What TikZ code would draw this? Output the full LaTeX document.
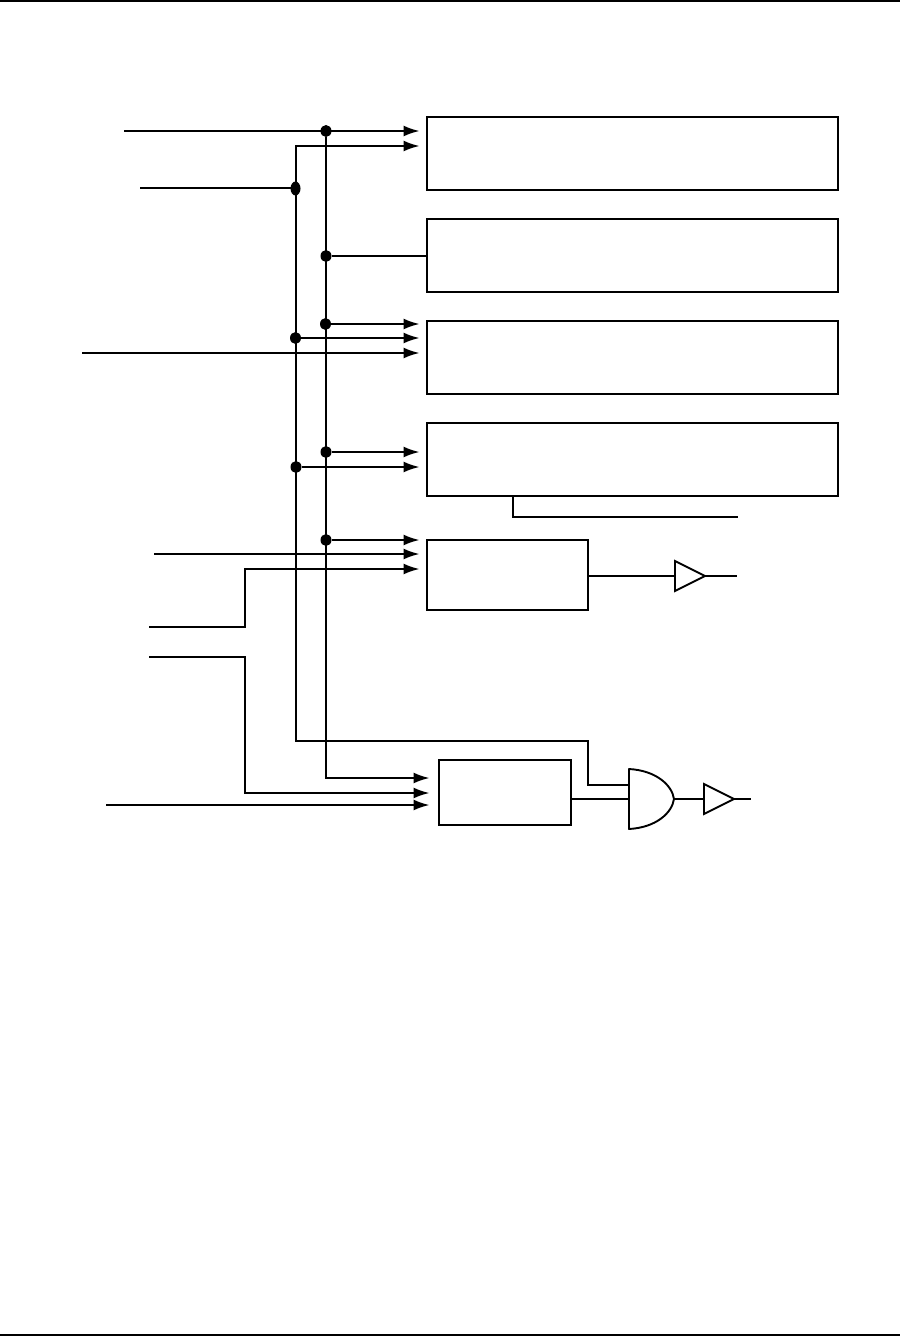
\documentclass[tikz,border=0pt]{standalone}
\usetikzlibrary{arrows.meta,shapes.geometric}
\tikzset{
  wire/.style={line width=1.9pt,line join=miter},
  sig/.style={wire,-{Latex[length=16pt,width=11pt]}},
  blockbox/.style={draw,line width=1.9pt,rectangle,inner sep=0pt,outer sep=0pt},
  ghost/.style={rectangle,inner sep=0pt,outer sep=0pt},
  joint/.style={ellipse,fill=black,draw=none,inner sep=0pt,outer sep=0pt,minimum width=11pt,minimum height=12pt},
  jointv/.style={joint,minimum width=10pt,minimum height=14pt}
}
\begin{document}
\begin{tikzpicture}[x=1pt,y=-1pt]
\useasboundingbox (0,0) rectangle (900,1336);
% page rules
\coordinate (tl) at (0,1); \coordinate (tr) at (900,1);
\coordinate (bl) at (0,1335); \coordinate (br) at (900,1335);
\draw[line width=2pt] (tl) -- (tr);
\draw[line width=2pt] (bl) -- (br);
% blocks
\node[blockbox,minimum width=411pt,minimum height=73pt] (b1) at (632.5,153.5) {};
\node[blockbox,minimum width=411pt,minimum height=73pt] (b2) at (632.5,255.5) {};
\node[blockbox,minimum width=411pt,minimum height=73pt] (b3) at (632.5,357.5) {};
\node[blockbox,minimum width=411pt,minimum height=73pt] (b4) at (632.5,459.5) {};
\node[blockbox,minimum width=161pt,minimum height=70pt] (b5) at (507.5,575) {};
\node[blockbox,minimum width=132pt,minimum height=65pt] (b6) at (505,792.5) {};
% gates
\node[ghost,minimum width=45pt,minimum height=60pt] (andg) at (651.5,799) {};
\draw[wire,line join=round] (andg.north west) -- (andg.south west)
  .. controls (656,827.5) and (672,813) .. (andg.east)
  .. controls (672,785) and (656,770.5) .. (andg.north west) -- cycle;
\node[ghost,minimum width=30pt,minimum height=30pt] (buf1) at (690,576) {};
\draw[wire] (buf1.north west) -- (buf1.east) -- (buf1.south west) -- cycle;
\node[ghost,minimum width=30pt,minimum height=30pt] (buf2) at (719,799) {};
\draw[wire] (buf2.north west) -- (buf2.east) -- (buf2.south west) -- cycle;
% free ends and arrow targets
\coordinate (i1) at (124,131);  \coordinate (t1) at (419.5,131);
\coordinate (t2) at (419.5,146);
\coordinate (i2) at (140,188);
\coordinate (t3) at (419.5,324);
\coordinate (t4) at (419.5,338);
\coordinate (i3) at (82,353);   \coordinate (t5) at (419.5,353);
\coordinate (t6) at (419.5,452);
\coordinate (t7) at (419.5,467);
\coordinate (t8) at (419.5,540);
\coordinate (i4) at (154,554);  \coordinate (t9) at (419.5,554);
\coordinate (i5) at (149,627);  \coordinate (t10) at (419.5,569);
\coordinate (i6) at (149,657);  \coordinate (t11) at (429.5,793);
\coordinate (i7) at (106,805);  \coordinate (t12) at (429.5,805);
\coordinate (t13) at (429.5,778);
\coordinate (o1) at (738,517);
\coordinate (o2) at (737,576);
\coordinate (o3) at (751,799);
% junctions
\node[joint]  (j1) at (326,131) {};
\node[joint]  (j2) at (326,256) {};
\node[joint]  (j3) at (325.5,324) {};
\node[joint]  (j4) at (326,452) {};
\node[joint]  (j5) at (326,540) {};
\node[jointv] (k1) at (295.5,188.5) {};
\node[joint]  (k2) at (295.5,338) {};
\node[joint]  (k3) at (296,467) {};
% inputs
\draw[sig] (i1) -- (t1);
\draw[wire] (i2) -- (i2 -| k1);
\draw[sig] (i3) -- (t5);
\draw[sig] (i4) -- (t9);
\draw[sig] (i5) -- (245,627) -- (245,569) -- (t10);
\draw[sig] (i6) -- (245,657) -- (245,793) -- (t11);
\draw[sig] (i7) -- (t12);
% bus at x=326
\draw[sig] (j1) -- (326,778) -- (t13);
\draw[wire] (j2) -- (j2 -| b2.west);
\draw[sig] (j3) -- (t3);
\draw[sig] (j4) -- (t6);
\draw[sig] (j5) -- (t8);
% bus at x=296
\draw[sig] (andg.west |- 0,785) -- (588,785) -- (588,741) -- (296,741) -- (296,146) -- (t2);
\draw[sig] (k2) -- (t4);
\draw[sig] (k3) -- (t7);
% outputs
\draw[wire] (513,496) -- (513,517) -- (o1);
\draw[wire] (b5.east |- buf1.west) -- (buf1.west);
\draw[wire] (buf1.east) -- (o2);
\draw[wire] (b6.east |- andg.west) -- (andg.west);
\draw[wire] (andg.east) -- (buf2.west);
\draw[wire] (buf2.east) -- (o3);
\end{tikzpicture}
\end{document}
